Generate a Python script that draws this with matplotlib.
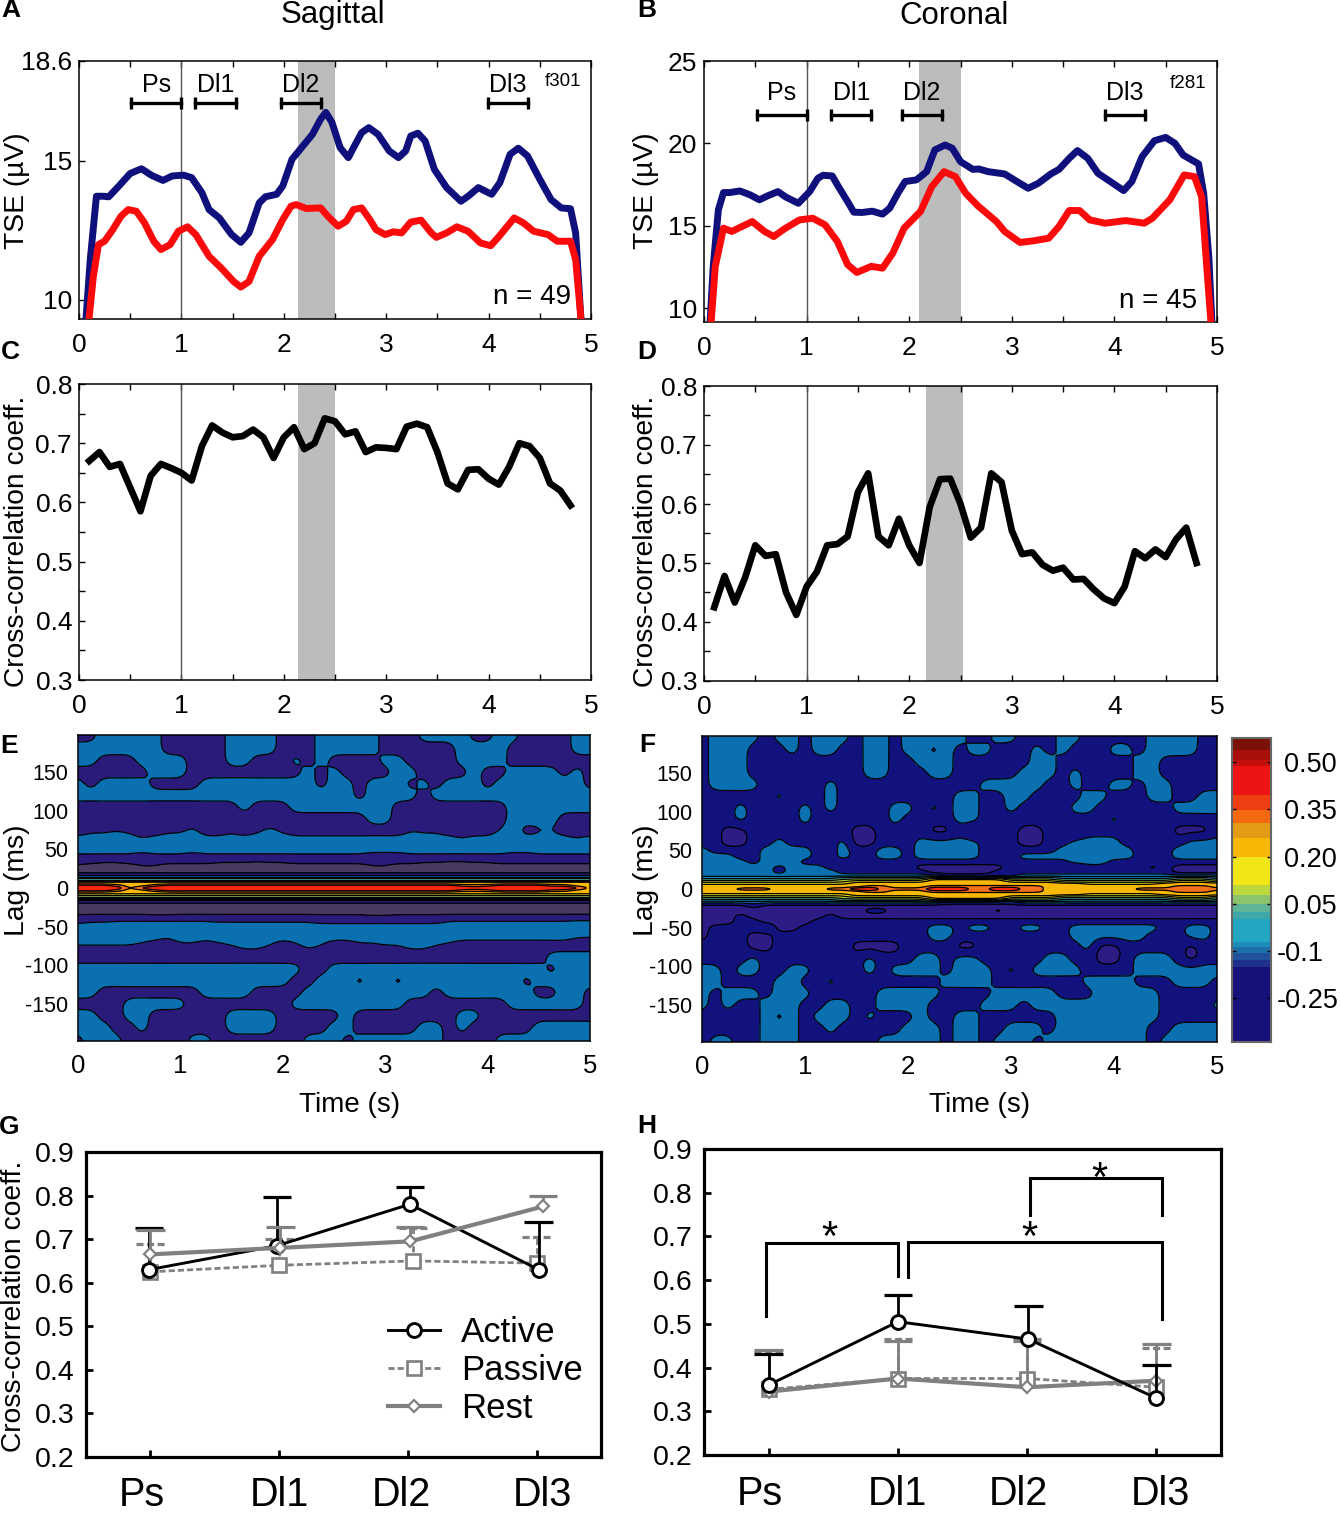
import numpy as np
import matplotlib
matplotlib.use("Agg")
import matplotlib.pyplot as plt
from matplotlib.colors import ListedColormap
from matplotlib.ticker import MultipleLocator

plt.rcParams['font.family'] = ['Liberation Sans', 'DejaVu Sans']
plt.rcParams['axes.linewidth'] = 1.1
plt.rcParams['axes.unicode_minus'] = False

W, H = 1340, 1515

# A: TSE sagittal
a_blue_t = [.07, .11, .17, .24, .29, .39, .50, .61, .71, .82, .91, 1.02, 1.10, 1.20, 1.27, 1.37, 1.49, 1.58, 1.66, 1.76,
            1.82, 1.93, 1.99, 2.08, 2.16, 2.28, 2.36, 2.41, 2.47, 2.55, 2.63, 2.69, 2.76, 2.83, 2.92, 3.03, 3.12, 3.19,
            3.24, 3.31, 3.38, 3.47, 3.59, 3.73, 3.80, 3.90, 4.03, 4.11, 4.21, 4.29, 4.38, 4.50, 4.61, 4.71, 4.80, 4.85, 4.90]
a_blue_v = [9.40, 11.45, 13.73, 13.73, 13.71, 14.10, 14.55, 14.72, 14.48, 14.30, 14.46, 14.49, 14.40, 13.86, 13.25, 12.95,
            12.35, 12.07, 12.41, 13.49, 13.71, 13.80, 14.10, 15.06, 15.42, 15.96, 16.51, 16.75, 16.39, 15.48, 15.12, 15.54,
            16.02, 16.20, 15.96, 15.36, 15.12, 15.36, 15.90, 16.0, 15.72, 14.70, 14.04, 13.55, 13.73, 14.04, 13.80, 14.22,
            15.24, 15.46, 15.18, 14.34, 13.61, 13.31, 13.28, 12.41, 9.40]
a_red_t = [.10, .14, .19, .25, .33, .41, .48, .56, .64, .73, .80, .89, .97, 1.06, 1.14, 1.27, 1.39, 1.51, 1.58, 1.66, 1.76,
           1.89, 1.99, 2.07, 2.12, 2.22, 2.36, 2.43, 2.53, 2.61, 2.68, 2.76, 2.84, 2.90, 2.99, 3.07, 3.15, 3.24, 3.34, 3.44,
           3.49, 3.59, 3.69, 3.80, 3.92, 4.02, 4.09, 4.25, 4.34, 4.44, 4.58, 4.67, 4.80, 4.85, 4.90]
a_red_v = [9.40, 10.84, 11.99, 12.11, 12.53, 13.01, 13.25, 13.19, 12.77, 12.11, 11.81, 11.99, 12.47, 12.63, 12.35, 11.57,
           11.14, 10.66, 10.46, 10.66, 11.57, 12.17, 12.89, 13.37, 13.43, 13.29, 13.31, 13.01, 12.65, 12.83, 13.25, 13.31,
           12.89, 12.53, 12.35, 12.45, 12.41, 12.80, 12.87, 12.41, 12.25, 12.41, 12.63, 12.47, 12.05, 11.95, 12.23, 12.95,
           12.77, 12.47, 12.35, 12.11, 12.11, 11.45, 9.40]

# B: TSE coronal
b_blue_t = [.06, .09, .14, .19, .25, .35, .45, .54, .62, .72, .80, .92, 1.03, 1.11, 1.16, 1.25, 1.31, 1.40, 1.46, 1.54, 1.64,
            1.74, 1.81, 1.89, 1.96, 2.07, 2.17, 2.25, 2.35, 2.42, 2.50, 2.62, 2.68, 2.77, 2.93, 3.05, 3.16, 3.26, 3.38, 3.46,
            3.56, 3.64, 3.74, 3.84, 3.96, 4.09, 4.17, 4.27, 4.39, 4.50, 4.59, 4.67, 4.82, 4.87, 4.92, 4.95]
b_blue_v = [9.19, 12.53, 15.96, 17.01, 17.01, 17.11, 16.87, 16.57, 16.81, 17.07, 16.73, 16.36, 17.07, 17.88, 18.06, 18.02,
            17.37, 16.46, 15.82, 15.80, 15.88, 15.70, 16.06, 16.97, 17.68, 17.78, 18.28, 19.60, 19.90, 19.70, 18.89, 18.42,
            18.44, 18.28, 18.14, 17.68, 17.27, 17.58, 18.14, 18.42, 19.09, 19.56, 19.09, 18.18, 17.68, 17.13, 17.68, 19.19,
            20.16, 20.36, 20.0, 19.29, 18.75, 16.97, 13.13, 9.19]
b_red_t = [.07, .11, .19, .27, .37, .47, .59, .68, .78, .93, 1.06, 1.18, 1.30, 1.40, 1.49, 1.63, 1.74, 1.84, 1.95, 2.11, 2.22,
           2.34, 2.45, 2.55, 2.67, 2.85, 2.93, 3.08, 3.21, 3.36, 3.46, 3.56, 3.66, 3.76, 3.91, 4.11, 4.29, 4.37, 4.54, 4.68,
           4.78, 4.85, 4.90, 4.94]
b_red_v = [9.19, 12.53, 14.85, 14.65, 14.95, 15.25, 14.65, 14.34, 14.79, 15.35, 15.45, 15.05, 14.04, 12.63, 12.16, 12.53,
           12.42, 13.33, 14.85, 15.86, 17.37, 18.28, 17.98, 16.97, 16.20, 15.25, 14.65, 13.98, 14.08, 14.24, 14.95, 15.92,
           15.92, 15.35, 15.15, 15.31, 15.15, 15.45, 16.57, 18.08, 17.98, 16.77, 12.53, 9.19]

# epoch brackets (start, stop)
epoch_names = ["Ps", "Dl1", "Dl2", "Dl3"]
a_epochs = [(.51, 1.0), (1.13, 1.53), (1.97, 2.36), (3.99, 4.38)]
b_epochs = [(.52, 1.0), (1.24, 1.63), (1.93, 2.32), (3.91, 4.30)]

# C, D: cross correlation vs time
cc_t = [.1, .2, .3, .4, .5, .6, .7, .8, .9, 1.0, 1.1, 1.2, 1.3, 1.4, 1.5, 1.6, 1.7, 1.8, 1.9, 2.0, 2.1, 2.2, 2.3, 2.4,
        2.5, 2.6, 2.7, 2.8, 2.9, 3.0, 3.1, 3.2, 3.3, 3.4, 3.5, 3.6, 3.7, 3.8, 3.9, 4.0, 4.1, 4.2, 4.3, 4.4, 4.5, 4.6, 4.7, 4.8]
c_cc = [.67, .685, .66, .665, .625, .585, .645, .665, .658, .65, .637, .695, .73, .718, .71, .712, .723, .71, .675, .71,
        .727, .69, .70, .742, .737, .715, .72, .685, .693, .692, .69, .728, .733, .727, .685, .632, .622, .655, .656, .64,
        .63, .66, .70, .695, .675, .632, .62, .595]
d_cc = [.425, .478, .433, .475, .53, .512, .515, .45, .412, .46, .485, .53, .532, .545, .62, .652, .545, .53, .575, .53,
        .50, .595, .642, .643, .60, .543, .56, .652, .637, .555, .515, .518, .497, .487, .492, .472, .473, .455, .44, .432,
        .46, .52, .508, .523, .51, .54, .56, .50]

# E, F: contour maps, one level code per cell (0 lowest ... a highest)
# p q r s sit between codes 0 and 1, w x y z between 1 and 2
part_codes = {"p": .3, "q": .45, "r": .55, "s": .7, "w": 1.3, "x": 1.45, "y": 1.55, "z": 1.7}
map_t = np.arange(41) * 0.125
map_lag = [198, 180, 165, 150, 135, 120, 105, 90, 75, 60, 50, 42, 35, 28, 22, 17, 13, 9, 6, 3, 0,
           -3, -6, -9, -13, -17, -22, -28, -35, -42, -50, -60, -75, -90, -105, -120, -135, -150, -165, -180, -198]

e_rows = [
    "11222 22111 11222 21112 22221 11222 21122 11112 2",
    "22222 22111 11222 21112 22221 11111 22221 11112 2",
    "22111 22221 11221 11212 11112 21111 22221 11111 1",
    "11111 12221 11111 11121 21111 22111 12112 22212 1",
    "21222 21111 22222 22221 22122 21212 22122 22222 1",
    "22222 22222 22222 22222 22122 22122 22222 22222 2",
    "11111 11111 11121 11222 22222 11111 11112 22222 2",
    "11111 11111 11111 11111 11122 11111 11112 22211 1",
    "1wwxw 11wwz 11w1w zw111 11111 1xww1 111y2 1wx11 1",
    "22222 z2222 22222 22222 22222 22222 z2222 2222z 2",
    "22222 22222 22222 22222 22222 22222 22222 22222 2",
    "wwwww 1www1 wwwww wwwww www11 1wwww wwww1 1wwww w",
    "11ss1 11111 1sssr ss111 11111 11ssr rss11 11111 1",
    "p0000 qq000 00000 00000 000qq 00000 00000 00000 0",
    "00000 00000 00000 00000 00000 00000 00000 00000 0",
    "11111 11111 11111 11111 11111 11111 11111 11111 1",
    "33333 33333 33333 33333 33333 33333 33333 33333 3",
    "55555 55555 55555 55555 55555 55555 55555 55555 5",
    "77777 77777 77777 77777 77777 77777 77777 77777 7",
    "99987 78999 99999 99999 99999 99999 88899 99887 7",
    "aaaa7 9aaaa aaaaa aaaaa aaaaa aaaaa a9aaa aaaa9 7",
    "99987 78999 99999 99999 99999 99999 88899 99887 7",
    "77777 77777 77777 77777 77777 77777 77777 77777 7",
    "55555 55555 55555 55555 55555 55555 55555 55555 5",
    "33333 33333 33333 33333 33333 33333 33333 33333 3",
    "11111 11111 11111 11111 11111 11111 11111 11111 1",
    "00000 00000 00000 00000 00000 00000 00000 00000 0",
    "00000 00000 00000 00000 00000 00000 00000 00000 0",
    "rrrrr rqqrr rrrrr rrrrr rrrqq rrrrr rrrrr rrrrr r",
    "1wwxx xxxxx xwwww wwww1 11111 1111x xxxxx xxxxy y",
    "22222 22222 22222 22222 22222 22222 22222 22222 2",
    "22222 22z22 22222 22222 22222 22222 22222 2222z z",
    "xxxxx w11ww 1wxzz x1wzx 11wwx xzzxw 11111 11111 1",
    "11111 11111 11111 11111 11111 11111 11111 11222 2",
    "22222 22222 22222 22211 22222 22222 22222 22122 2",
    "22222 22222 22222 22112 22122 12222 22222 12222 2",
    "22111 11111 22221 11122 22222 22212 22222 21122 1",
    "11112 22221 11111 11222 22222 21111 11112 22222 1",
    "22112 21111 11222 21111 12111 11111 22111 11111 1",
    "22211 21111 11222 21111 22111 11221 21111 12222 2",
    "12221 11112 21111 11122 21222 22221 11122 22222 2",
]

f_rows = [
    "12222 12212 22122 12222 21122 11122 11111 22221 1",
    "12221 11212 21122 12212 12211 12121 11221 22221 1",
    "12221 11111 11122 11222 11111 12211 11112 21111 1",
    "12221 11111 11122 11122 11111 22212 11112 21111 1",
    "12222 11111 21111 11111 11222 22112 11221 22111 1",
    "11111 12111 21111 11111 22112 21111 22111 22112 2",
    "11121 11121 21111 22121 22112 11112 21111 11222 2",
    "11121 11121 11111 21111 22111 11111 11211 11111 1",
    "11001 11111 11001 11100 10111 00110 11111 11000 1",
    "11001 12111 12001 11222 22111 00112 22211 11122 2",
    "21111 22221 12112 21222 22111 11122 22221 11222 2",
    "22211 22221 12112 21222 22111 22222 22221 11222 2",
    "22221 22211 11111 11111 11111 11112 22111 11111 1",
    "22222 21222 11111 11000 00001 11110 11111 01000 0",
    "22222 21222 21111 11100 00011 11111 11111 11000 0",
    "22222 22222 22222 22221 11111 22222 22222 22222 2",
    "33333 33333 34444 44466 66664 44433 33333 33444 3",
    "55555 55555 55666 66677 77776 66655 55555 55666 5",
    "66666 66666 66777 77777 77777 77777 66666 67777 7",
    "77777 77777 77788 77788 88888 88777 77777 77888 7",
    "77788 87777 88aa8 888aa a88aa 88777 77778 88888 8",
    "77777 77777 77788 77788 88888 88777 77777 77888 7",
    "66666 66666 66777 77777 77777 77777 66666 67777 7",
    "55555 55555 55666 66677 77776 66655 55555 55666 5",
    "33333 33333 34444 44466 66664 44433 33333 33444 3",
    "22222 22222 22222 22221 11111 22222 22222 22222 2",
    "00001 00000 00000 00000 00000 00000 00000 00000 0",
    "00000 00000 00011 00000 00010 00000 00000 00000 0",
    "00010 00000 10000 00000 00000 00000 00000 00000 0",
    "00011 00001 11111 11111 11111 11111 11111 11111 1",
    "01111 20011 11111 11122 12211 22112 22222 21122 1",
    "01110 01111 11111 11122 11111 11112 22222 11122 1",
    "11110 01111 11000 01111 00111 11111 20011 11101 1",
    "11112 11111 11121 11221 22111 11221 10012 22101 1",
    "22122 11221 11121 22221 22212 12222 11112 22222 2",
    "22111 12211 21111 11112 22211 11111 22221 11222 1",
    "21222 12221 11112 22221 11122 22211 12222 21111 1",
    "21211 22211 22112 22211 11222 12222 22222 21111 2",
    "11111 21212 22121 11211 22111 11122 22222 21111 1",
    "11111 22211 21111 12221 22112 22122 22222 11222 2",
    "12211 22211 11112 22221 22122 21222 22222 12222 2",
]

map_levels = [-1, .5, 1.5, 2.25, 3, 3.5, 4, 4.5, 5, 6, 7.5, 8.5, 11]
line_levels = [.5, 1.5, 2.25, 3, 4, 5, 6, 7.5, 8.5]
map_colors = ["#0a70b0", "#1a8fb8", "#2aa5c0", "#55b79a", "#8cc96a", "#bcd83a", "#f0e41a", "#f8b808", "#f5701a", "#f8280f"]
e_low = ["#4a3a62", "#2a1a7a"]
f_low = ["#2e1c85", "#12127e"]
lag_ticks = [-150, -100, -50, 0, 50, 100, 150]

# colorbar bands, bottom to top
cbar_edges = [-.388, -.149, -.128, -.105, -.086, -.07, .001, .025, .05, .078, .11, .2, .258, .306, .349, .396, .486, .507, .539, .576]
cbar_colors = ["#16107a", "#1f2f8c", "#22509c", "#1c70a8", "#1c8cb8", "#22a6c2", "#3ea8a8", "#5eb596", "#8cc46e", "#bcd83c",
               "#f2e616", "#f8b606", "#e39a14", "#f56a10", "#f03e14", "#ee1414", "#c4100c", "#a80f0a", "#7a1208"]
cbar_ticks = [.5, .35, .2, .05, -.1, -.25]
cbar_labels = ["0.50", "0.35", "0.20", "0.05", "-0.1", "-0.25"]

# G, H: cross correlation per epoch
x_active_g = [-.01, .985, 2.015, 3.015]
x_passive_g = [0, 1.0, 2.04, 3.0]
x_rest_g = [0, 1.01, 2.02, 3.05]
active_g = [.63, .685, .78, .63]
active_g_top = [.725, .797, .82, .74]
passive_g = [.625, .64, .65, .645]
passive_g_top = [.69, .70, .725, .705]
rest_g = [.665, .68, .695, .775]
rest_g_top = [.722, .727, .727, .80]

x_active_h = [0, 1, 2.01, 3.0]
x_passive_h = [0, 1, 2.0, 3.0]
x_rest_h = [0, 1, 2.0, 3.0]
active_h = [.36, .505, .465, .33]
active_h_top = [.43, .565, .54, .405]
passive_h = [.35, .375, .375, .355]
passive_h_top = [.437, .465, .465, .445]
rest_h = [.345, .375, .355, .37]
rest_h_top = [.44, .46, .46, .455]

# significance brackets in H: x0, x1, y top, y left foot, y right foot
h_brackets = [(-.023, .998, .685, .518, .61), (1.075, 3.04, .687, .607, .511), (2.02, 3.04, .834, .749, .749)]
h_stars = [(.47, .695), (2.02, .695), (2.56, .828)]

GREY = "#808080"
NAVY = "#10107c"
RED = "#fa0a0a"

fig = plt.figure(figsize=(W / 100, H / 100), dpi=100)


def px_axes(left, top, right, bottom):
    return fig.add_axes([left / W, 1 - bottom / H, (right - left) / W, (bottom - top) / H])


def px_text(x, y, s, **kw):
    kw.setdefault("ha", "center")
    kw.setdefault("va", "center")
    fig.text(x / W, 1 - y / H, s, **kw)


def time_axis(ax, ymin, ymax, yticks):
    ax.set_xlim(0, 5)
    ax.set_ylim(ymin, ymax)
    ax.set_xticks(range(6))
    ax.set_yticks(yticks)
    ax.xaxis.set_minor_locator(MultipleLocator(.5))
    ax.tick_params(axis="both", which="both", direction="in", length=4.5, width=1, labelsize=19)
    ax.tick_params(axis="x", which="both", top=True, pad=10)
    ax.tick_params(axis="y", pad=5)


def tse_panel(ax, bt, bv, rt, rv, band, epochs, ybar, ycap, ylab, ymin, ymax, yticks):
    time_axis(ax, ymin, ymax, yticks)
    ax.axvspan(band[0], band[1], color="#bcbcbc", lw=0, zorder=1)
    ax.axvline(1, color="#555555", lw=1, zorder=2)
    ax.plot(bt, bv, color=NAVY, lw=5, zorder=3, solid_joinstyle="round")
    ax.plot(rt, rv, color=RED, lw=5, zorder=4, solid_joinstyle="round")
    for (t0, t1), name in zip(epochs, epoch_names):
        ax.plot([t0, t1], [ybar, ybar], color="k", lw=2.4, zorder=5)
        ax.vlines([t0, t1], ybar - ycap, ybar + ycap, color="k", lw=2.4, zorder=5)
        ax.text((t0 + t1) / 2, ylab, name, ha="center", va="center", fontsize=18, zorder=6)


def cc_panel(ax, vals, band):
    time_axis(ax, .3, .8, [.3, .4, .5, .6, .7, .8])
    ax.yaxis.set_minor_locator(MultipleLocator(.05))
    ax.axvspan(band[0], band[1], color="#bcbcbc", lw=0, zorder=1)
    ax.axvline(1, color="#555555", lw=1, zorder=2)
    ax.plot(cc_t, vals, color="k", lw=4.8, zorder=3, solid_joinstyle="round")


def refine(z):
    # resample the typed cells on a finer grid and round the corners, for contouring only
    rows = np.linspace(0, z.shape[0] - 1, (z.shape[0] - 1) * 4 + 1)
    cols = np.linspace(0, z.shape[1] - 1, (z.shape[1] - 1) * 4 + 1)
    fine = np.array([np.interp(cols, np.arange(z.shape[1]), r) for r in z])
    fine = np.array([np.interp(rows, np.arange(z.shape[0]), c) for c in fine.T]).T
    for _ in range(4):
        p = np.pad(fine, 1, mode="edge")
        p = (p[:-2, :] + 2 * p[1:-1, :] + p[2:, :]) / 4
        fine = (p[:, :-2] + 2 * p[:, 1:-1] + p[:, 2:]) / 4
    return rows, cols, fine


def map_panel(ax, rows, low):
    z = np.array([[part_codes[c] if c in part_codes else int(c, 36) for c in r.replace(" ", "")] for r in rows])
    ri, ci, fine = refine(z)
    lags = np.interp(ri, np.arange(len(map_lag)), map_lag)[::-1]
    times = np.interp(ci, np.arange(len(map_t)), map_t)
    fine = fine[::-1, :]
    ax.contourf(times, lags, fine, levels=map_levels, colors=low + map_colors)
    ax.contour(times, lags, fine, levels=line_levels, colors="k", linewidths=.9)
    ax.set_xlim(0, 5)
    ax.set_ylim(-198, 198)
    ax.set_xticks(range(6))
    ax.set_yticks(lag_ticks)
    ax.tick_params(axis="x", length=0, labelsize=18.5, pad=9.5)
    ax.tick_params(axis="y", length=0, labelsize=15.5, pad=7)


def epoch_panel(ax, series, z_active, z_rest):
    ax.set_xlim(-.5, 3.5)
    ax.set_ylim(.2, .9)
    ax.set_xticks(range(4))
    ax.set_xticklabels([])
    ax.set_yticks([.2, .3, .4, .5, .6, .7, .8, .9])
    ax.tick_params(axis="both", direction="in", length=5, width=2, labelsize=20.5)
    ax.tick_params(axis="y", pad=8)
    for s in ax.spines.values():
        s.set_linewidth(2.3)
    styles = {
        "Active": dict(color="k", ls="-", lw=2.1, marker="o", ms=10, mew=2.1, zorder=z_active),
        "Passive": dict(color=GREY, ls=(0, (2.2, 1.1)), lw=2, marker="s", ms=10, mew=1.9, zorder=3),
        "Rest": dict(color=GREY, ls="-", lw=3, marker="D", ms=6.5, mew=1.6, zorder=z_rest),
    }
    for name, xs, vals, tops in series:
        st = styles[name]
        z = st["zorder"]
        ax.vlines(xs, vals, tops, color=st["color"], linestyles=st["ls"], lw=2, zorder=z - .5)
        ax.hlines(tops, np.array(xs) - .11, np.array(xs) + .11, color=st["color"], linestyles=st["ls"], lw=2.3, zorder=z - .5)
        ax.plot(xs, vals, label=name, mfc="white", mec=st["color"], **st)


ax_a = px_axes(79, 61, 591, 319)
tse_panel(ax_a, a_blue_t, a_blue_v, a_red_t, a_red_v, (2.14, 2.50), a_epochs, 17.1, .22, 17.74, 9.31, 18.6, [10, 15, 18.6])
ax_a.set_yticklabels(["10", "15", "18.6"])
ax_b = px_axes(704, 61, 1217, 322)
tse_panel(ax_b, b_blue_t, b_blue_v, b_red_t, b_red_v, (2.10, 2.50), b_epochs, 21.7, .36, 23.03, 9.15, 25, [10, 15, 20, 25])

ax_c = px_axes(79, 384, 591, 680)
cc_panel(ax_c, c_cc, (2.14, 2.50))
ax_d = px_axes(704, 386, 1217, 681)
cc_panel(ax_d, d_cc, (2.16, 2.52))

ax_e = px_axes(78, 735, 590, 1041)
map_panel(ax_e, e_rows, e_low)
ax_f = px_axes(702, 736, 1217, 1042)
map_panel(ax_f, f_rows, f_low)

# colorbar
ax_cb = px_axes(1232, 738, 1271, 1042)
ax_cb.pcolormesh([0, 1], cbar_edges, np.arange(len(cbar_colors)).reshape(-1, 1), cmap=ListedColormap(cbar_colors))
ax_cb.set_ylim(cbar_edges[0], cbar_edges[-1])
ax_cb.set_xticks([])
ax_cb.set_yticks(cbar_ticks)
ax_cb.set_yticklabels([])
ax_cb.tick_params(axis="y", direction="in", left=True, right=True, length=3, width=1)
for s in ax_cb.spines.values():
    s.set_color("#666666")
    s.set_linewidth(1.5)
for tick, lab in zip(cbar_ticks, cbar_labels):
    ax_cb.annotate(lab, xy=(1, tick), xycoords=("axes fraction", "data"), xytext=(6 if lab[0] == "-" else 13, -3),
                   textcoords="offset pixels", va="center", ha="left", fontsize=19.5)

ax_g = px_axes(86, 1152, 601, 1457)
epoch_panel(ax_g, [("Active", x_active_g, active_g, active_g_top),
                   ("Passive", x_passive_g, passive_g, passive_g_top),
                   ("Rest", x_rest_g, rest_g, rest_g_top)], 4, 5)
ax_g.legend(loc="upper left", bbox_to_anchor=((388 - 86) / 515, (1457 - 1316) / 305), frameon=False, fontsize=25,
            borderpad=0, borderaxespad=0, labelspacing=.15, handlelength=1.5, handletextpad=.6)

ax_h = px_axes(704, 1149, 1221, 1455)
epoch_panel(ax_h, [("Passive", x_passive_h, passive_h, passive_h_top),
                   ("Rest", x_rest_h, rest_h, rest_h_top),
                   ("Active", x_active_h, active_h, active_h_top)], 6, 5)
for x0, x1, top, foot0, foot1 in h_brackets:
    ax_h.plot([x0, x0, x1, x1], [foot0, top, top, foot1], color="k", lw=2.2, zorder=7, solid_joinstyle="miter")
for sx, sy in h_stars:
    ax_h.text(sx, sy, "*", ha="center", va="center", fontsize=30, zorder=8)

# panel annotations
ax_a.text(4.73, 17.85, "f301", ha="center", va="center", fontsize=13.5)
ax_b.text(4.72, 23.63, "f281", ha="center", va="center", fontsize=13.5)
ax_a.text(4.42, 10.1, "n = 49", ha="center", va="center", fontsize=20)
ax_b.text(4.43, 10.4, "n = 45", ha="center", va="center", fontsize=20)

px_text(333, 15, "Sagittal", fontsize=22.5)
px_text(954, 16, "Coronal", fontsize=22.5)

for x, y, s in [(11, 10, "A"), (647, 10, "B"), (10, 352, "C"), (647, 352, "D"),
                (9, 746, "E"), (647, 745, "F"), (9, 1127, "G"), (647, 1126, "H")]:
    px_text(x, y, s, fontsize=19, fontweight="bold")

for x, y, s in [(17, 191, "TSE (µV)"), (646, 191, "TSE (µV)"), (17, 541, "Cross-correlation coeff."),
                (646, 541, "Cross-correlation coeff."), (17, 880, "Lag (ms)"), (646, 880, "Lag (ms)"),
                (14, 1306, "Cross-correlation coeff.")]:
    px_text(x, y, s, fontsize=20.3, rotation=90)

px_text(350, 1105, "Time (s)", fontsize=20)
px_text(980, 1105, "Time (s)", fontsize=20)

for x, s in zip([142, 279, 401, 542], epoch_names):
    px_text(x, 1495, s, fontsize=28.5)
for x, s in zip([760, 897, 1018, 1160], epoch_names):
    px_text(x, 1494, s, fontsize=28.5)

fig.savefig("out.png", dpi=100)
plt.close(fig)
